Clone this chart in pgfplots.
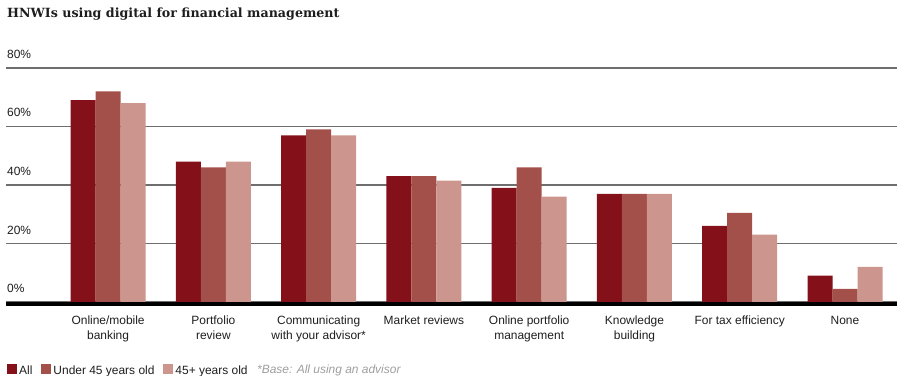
\documentclass[border=0pt]{standalone}
\usepackage{fontspec}
\setmainfont{Liberation Sans}
\newfontfamily\titlefont{DejaVu Serif}
\usepackage{pgfplots}
\pgfplotsset{compat=1.18}
\definecolor{cAll}{HTML}{84111A}
\definecolor{cUnder}{HTML}{A4504A}
\definecolor{cOld}{HTML}{CC958D}
\definecolor{gridc}{HTML}{6E6E6E}
\definecolor{txt}{HTML}{1E1E1E}
\begin{document}
\begin{tikzpicture}
\useasboundingbox (0,0) rectangle (900bp,376bp);
\node[anchor=base west, inner sep=0pt, font=\titlefont\bfseries\fontsize{12.7}{15}\selectfont, text=txt] at (7bp,358.7bp) {HNWIs using digital for financial management};
\begin{axis}[
 at={(6bp,74bp)}, anchor=south west,
 scale only axis, width=891bp, height=234bp,
 xmin=-0.97, xmax=7.494, ymin=0, ymax=80,
 ybar=0pt, bar width=25bp,
 axis line style={draw=none},
 major tick length=0pt,
 ytick={0,20,40,60,80}, yticklabels={0\%,20\%,40\%,60\%,80\%},
 yticklabel style={anchor=base west, inner sep=0pt, xshift=1bp, yshift=9.5bp, font=\fontsize{12}{14}\selectfont, text=txt},
 xtick={0,...,7},
 xticklabels={Online/mobile\\banking, Portfolio\\review, Communicating\\with your advisor*, Market reviews, Online portfolio\\management, Knowledge\\building, For tax efficiency, None},
 xticklabel style={anchor=north, align=center, inner sep=0pt, yshift=-14bp, font=\fontsize{12}{14.3}\selectfont, text=txt},
 ymajorgrids, grid style={gridc, line width=1.2bp},
 clip=false,
 legend image code/.code={\fill[#1] (0bp,-3bp) rectangle (10bp,7bp);},
 legend columns=-1,
 legend style={draw=none, fill=none, inner sep=0pt, at={(axis description cs:0,0)}, anchor=south west, xshift=1bp, yshift=-75.5bp, font=\fontsize{12}{14}\selectfont, text=txt, nodes={inner sep=1.5bp}, /tikz/every odd column/.append style={column sep=0.5bp}, /tikz/every even column/.append style={column sep=7.5bp}},
]
\addplot[fill=cAll, draw=none] coordinates {(0,69) (1,48) (2,57) (3,43) (4,39) (5,37) (6,26) (7,9)};
\addplot[fill=cUnder, draw=none] coordinates {(0,72) (1,46) (2,59) (3,43) (4,46) (5,37) (6,30.5) (7,4.5)};
\addplot[fill=cOld, draw=none] coordinates {(0,68) (1,48) (2,57) (3,41.5) (4,36) (5,37) (6,23) (7,12)};
\legend{All, Under 45 years old, 45+ years old}
\draw[black, line width=4bp] ([yshift=-2bp]axis cs:-0.97,0) -- ([yshift=-2bp]axis cs:7.494,0);
\end{axis}
\node[anchor=base west, inner sep=0pt, font=\itshape\fontsize{12}{14}\selectfont, text=black!38] at (257bp,2.5bp) {*Base: All using an advisor};
\end{tikzpicture}
\end{document}
